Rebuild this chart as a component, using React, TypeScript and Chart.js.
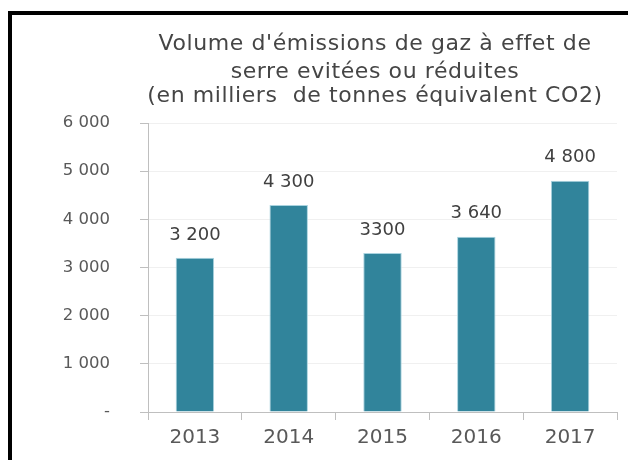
import React, { useEffect, useRef } from "react";
import { Chart, registerables } from "chart.js";

Chart.register(...registerables);

const categories = ["2013", "2014", "2015", "2016", "2017"];
const values = [3200, 4300, 3300, 3640, 4800];
const valueLabels = ["3 200", "4 300", "3300", "3 640", "4 800"];
const titleLines = [
  "Volume d'émissions de gaz à effet de",
  "serre evitées ou réduites",
  "(en milliers  de tonnes équivalent CO2)",
];
const yMax = 6000;
const yStep = 1000;

const FONT = "'DejaVu Sans', sans-serif";

function formatTick(v: number): string {
  if (v === 0) return "-";
  const s = String(Math.round(v));
  return s.replace(/\B(?=(\d{3})+(?!\d))/g, " ");
}

const titlePlugin = {
  id: "customTitle",
  afterDraw(chart: any) {
    const ctx = chart.ctx;
    ctx.save();
    ctx.fillStyle = "#454545";
    ctx.font = `22px ${FONT}`;
    (ctx as any).letterSpacing = "0.6px";
    ctx.textAlign = "center";
    ctx.textBaseline = "alphabetic";
    const baselines = [50, 78, 102];
    titleLines.forEach((t, i) => ctx.fillText(t, 375, baselines[i]));
    ctx.restore();
  },
};

const valueLabelPlugin = {
  id: "valueLabels",
  afterDatasetsDraw(chart: any) {
    const ctx = chart.ctx;
    const meta = chart.getDatasetMeta(0);
    ctx.save();
    ctx.fillStyle = "#404040";
    ctx.font = `18px ${FONT}`;
    ctx.textAlign = "center";
    ctx.textBaseline = "middle";
    meta.data.forEach((bar: any, i: number) => {
      ctx.fillText(valueLabels[i], bar.x, bar.y - 23);
    });
    ctx.restore();
  },
};

export default function App() {
  const canvasRef = useRef<HTMLCanvasElement | null>(null);

  useEffect(() => {
    if (!canvasRef.current) return;
    const chart = new Chart(canvasRef.current, {
      type: "bar",
      data: {
        labels: categories,
        datasets: [
          {
            data: values,
            backgroundColor: "#31849b",
            borderColor: "#a9d3df",
            borderWidth: 1,
            barPercentage: 0.41,
            categoryPercentage: 1,
          },
        ],
      },
      options: {
        responsive: false,
        animation: false,
        layout: { padding: { top: 123, right: 11, left: 0, bottom: 0 } },
        plugins: {
          legend: { display: false },
          title: { display: false },
          tooltip: { enabled: false },
        },
        scales: {
          x: {
            grid: {
              display: true,
              drawOnChartArea: false,
              drawTicks: true,
              tickLength: 8,
              color: "#bfbfbf",
              offset: true,
            },
            border: { display: true, color: "#bfbfbf", width: 1 },
            ticks: {
              color: "#595959",
              font: { family: FONT, size: 20 },
              padding: 6,
              maxRotation: 0,
            },
            afterFit(scale: any) {
              scale.height = 48;
            },
          },
          y: {
            min: 0,
            max: yMax,
            grid: {
              color: "#f0f0f0",
              drawTicks: true,
              tickLength: 8,
              tickColor: "#bfbfbf",
            },
            border: { display: true, color: "#bfbfbf", width: 1 },
            ticks: {
              stepSize: yStep,
              color: "#595959",
              font: { family: FONT, size: 16.5 },
              padding: 30,
              callback: (v: any) => formatTick(Number(v)),
            },
            afterFit(scale: any) {
              scale.width = 148;
            },
          },
        },
      },
      plugins: [titlePlugin, valueLabelPlugin],
    });
    return () => chart.destroy();
  }, []);

  return (
    <div
      style={{
        position: "fixed",
        left: 0,
        top: 0,
        width: 628,
        height: 460,
        background: "#ffffff",
        overflow: "hidden",
      }}
    >
      <canvas ref={canvasRef} width={628} height={460} style={{ display: "block" }} />
      <div
        style={{
          position: "absolute",
          left: 8,
          top: 11,
          right: -10,
          bottom: -10,
          borderLeft: "4px solid #000",
          borderTop: "4px solid #000",
          pointerEvents: "none",
        }}
      />
    </div>
  );
}
